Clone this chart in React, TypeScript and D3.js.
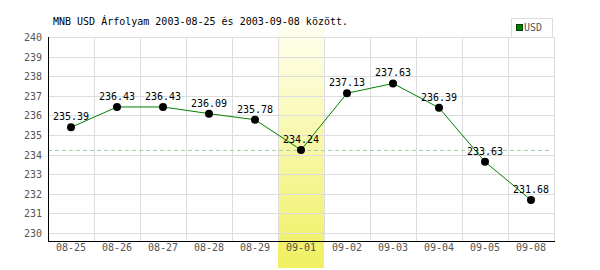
import React from "react";
import * as d3 from "d3";

const categories = ["08-25","08-26","08-27","08-28","08-29","09-01","09-02","09-03","09-04","09-05","09-08"];
const values = [235.39,236.43,236.43,236.09,235.78,234.24,237.13,237.63,236.39,233.63,231.68];
const yTicks = [230,231,232,233,234,235,236,237,238,239,240];
const highlightIndex = 5;
const title = "MNB USD Árfolyam 2003-08-25 és 2003-09-08 között.";
const seriesName = "USD";

export default function App() {
  const W = 600, H = 270;
  const left = 48, right = 554, top = 37, bottom = 241;
  const x = d3.scaleBand<string>().domain(categories).range([left, right]).padding(0);
  const y = d3.scaleLinear().domain([230, 240]).range([233, 37]);
  const cx = (c: string) => (x(c) as number) + x.bandwidth() / 2;
  const line = d3.line<number>().x((_, i) => cx(categories[i])).y(v => y(v));
  const font = "'DejaVu Sans Mono', monospace";
  const hx = x(categories[highlightIndex]) as number;
  const refY = Math.round(y(values[highlightIndex])) + 0.5;
  return (
    <svg width={W} height={H} style={{ position: "absolute", left: 0, top: 0, background: "#fff" }}>
      <defs>
        <linearGradient id="hl" x1="0" y1="0" x2="0" y2="1">
          <stop offset="0" stopColor="#fffff4" />
          <stop offset="1" stopColor="#f0f060" />
        </linearGradient>
      </defs>
      <rect x={hx} y={20} width={x.bandwidth()} height={248} fill="url(#hl)" />
      {yTicks.map(t => (
        <line key={"h" + t} x1={left} x2={right} y1={Math.round(y(t)) + 0.5} y2={Math.round(y(t)) + 0.5} stroke="#dddddd" />
      ))}
      {categories.map((c, i) => (
        <line key={"v" + c} x1={(x(c) as number) + 0.5} x2={(x(c) as number) + 0.5} y1={top} y2={bottom} stroke="#dddddd" />
      ))}
      <line x1={right + 0.5} x2={right + 0.5} y1={top} y2={bottom} stroke="#dddddd" />
      <line x1={left} x2={right - 4} y1={refY} y2={refY} stroke="#a8cca8" strokeDasharray="4,3" />
      <line x1={left + 0.5} x2={left + 0.5} y1={top} y2={bottom + 1} stroke="#000" />
      <line x1={left} x2={right + 1} y1={bottom + 0.5} y2={bottom + 0.5} stroke="#000" />
      {yTicks.map(t => (
        <text key={"yl" + t} x={42} y={y(t) + 4} textAnchor="end" fontFamily={font} fontSize={10} fill="#555">{t}</text>
      ))}
      {categories.map(c => (
        <text key={"xl" + c} x={cx(c)} y={251} textAnchor="middle" fontFamily={font} fontSize={10} fill="#555">{c}</text>
      ))}
      <path d={line(values) || ""} fill="none" stroke="#008000" strokeWidth={1} />
      {values.map((v, i) => (
        <circle key={"p" + i} cx={cx(categories[i])} cy={y(v)} r={4} fill="#000" />
      ))}
      {values.map((v, i) => (
        <text key={"vl" + i} x={cx(categories[i])} y={y(v) - 7} textAnchor="middle" fontFamily={font} fontSize={10} fill="#000">{v.toFixed(2)}</text>
      ))}
      <text x={53} y={25} fontFamily={font} fontSize={10} fill="#000">{title}</text>
      <rect x={511.5} y={18.5} width={41} height={19} fill="#fff" stroke="#dddddd" />
      <rect x={516.5} y={24.5} width={6} height={6} fill="#008000" stroke="#004000" />
      <text x={524} y={31} fontFamily={font} fontSize={10} fill="#555">{seriesName}</text>
    </svg>
  );
}
